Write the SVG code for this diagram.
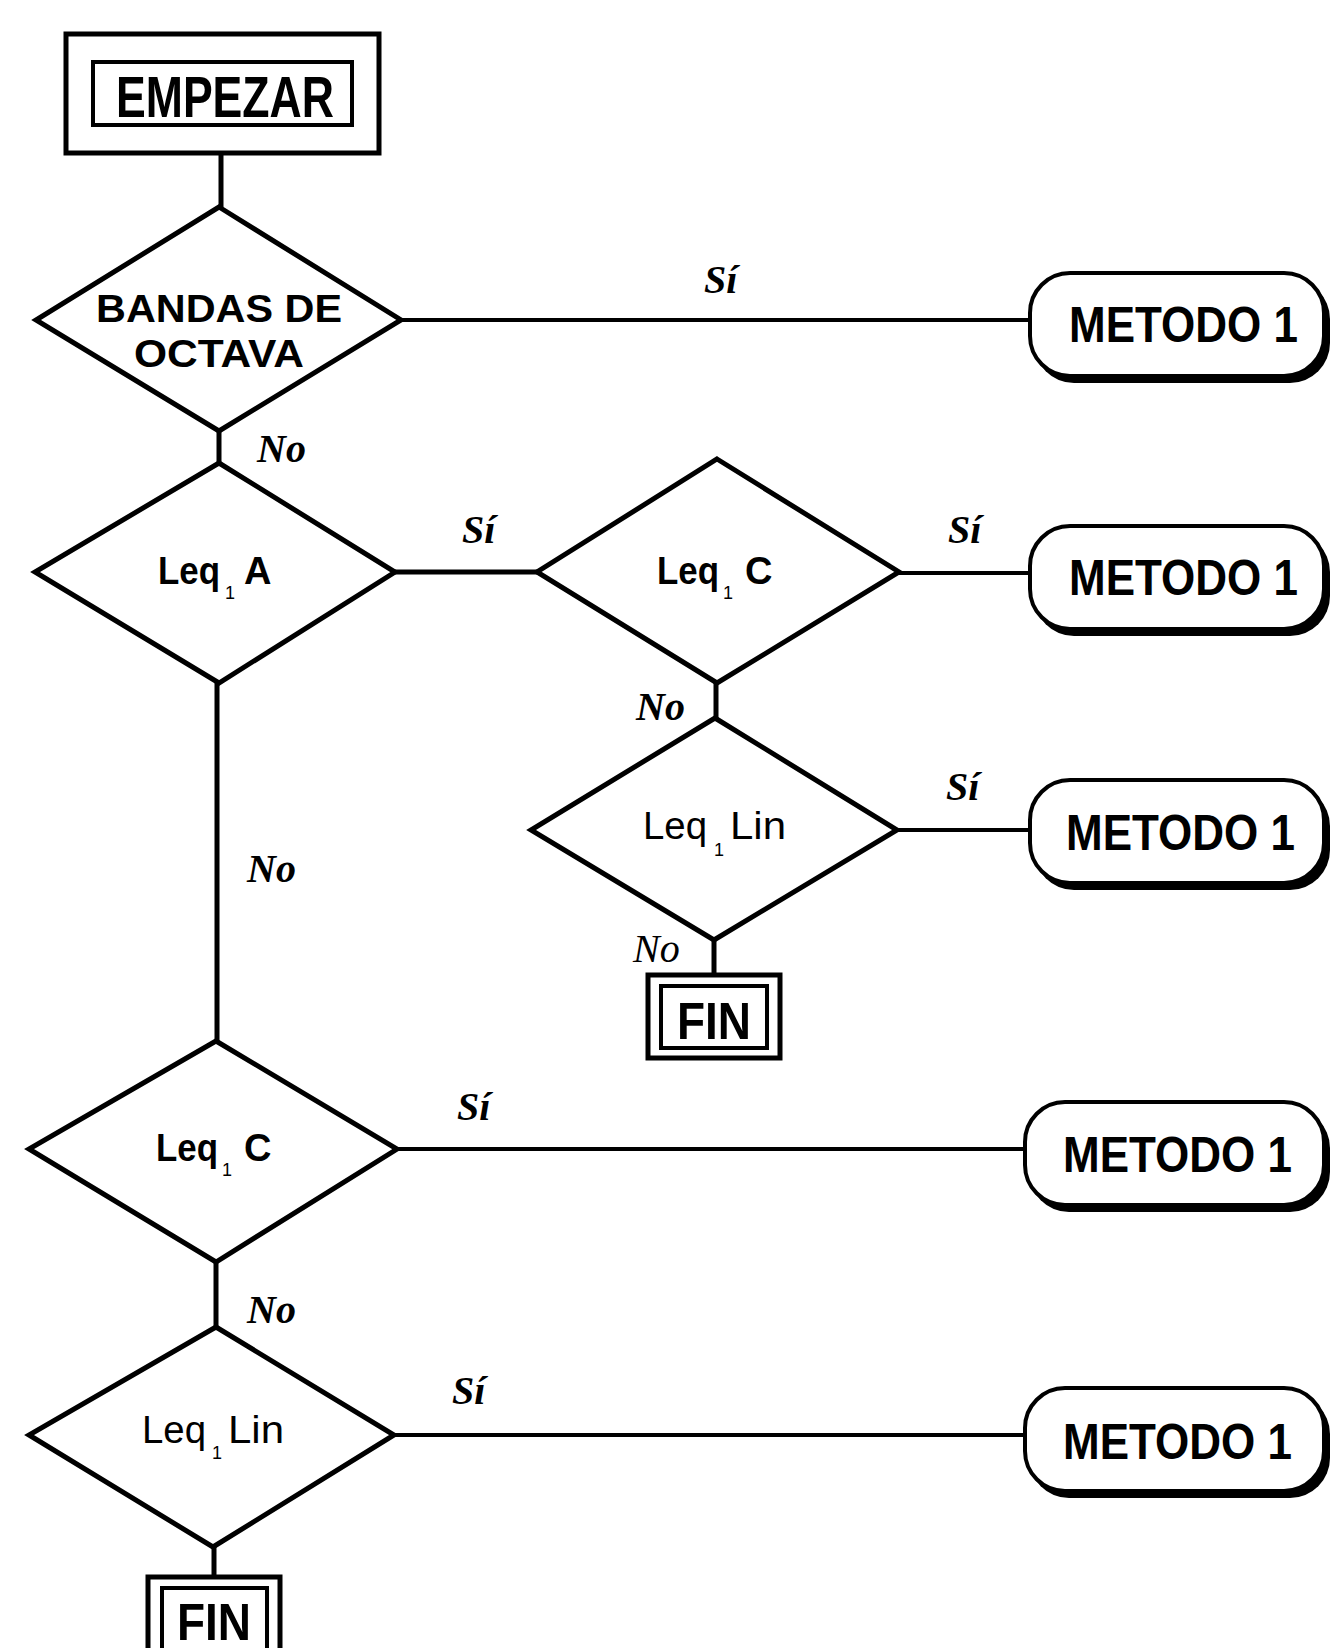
<svg xmlns="http://www.w3.org/2000/svg" width="1331" height="1648" viewBox="0 0 1331 1648">
<style>
.dia{fill:#fff;stroke:#000;stroke-width:5;stroke-linejoin:miter}
.con{stroke:#000;stroke-width:5;fill:none}
.conh{stroke:#000;stroke-width:4;fill:none}
.box{fill:#fff;stroke:#000;stroke-width:5}
.shadow{fill:#000}
.term{fill:#fff;stroke:#000;stroke-width:4}
.t{font-family:"Liberation Sans",Arial,sans-serif;font-weight:bold;fill:#000}
.tn{font-family:"Liberation Sans",Arial,sans-serif;fill:#000}
.lbl{font-family:"Liberation Serif","Times New Roman",serif;font-style:italic;font-weight:bold;font-size:40px;fill:#000}
.lbln{font-family:"Liberation Serif","Times New Roman",serif;font-style:italic;font-size:40px;fill:#000}
.sub{font-family:"Liberation Sans",Arial,sans-serif;font-size:18px;fill:#000}
</style>
<rect width="1331" height="1648" fill="#fff"/>
<g id="connectors">
<line class="con" x1="221" y1="153" x2="221" y2="207"/>
<line class="conh" x1="401" y1="320" x2="1030" y2="320"/>
<line class="con" x1="219" y1="431" x2="219" y2="463"/>
<line class="con" x1="395" y1="572" x2="537" y2="572"/>
<line class="conh" x1="899" y1="573" x2="1030" y2="573"/>
<line class="con" x1="716" y1="683" x2="716" y2="718"/>
<line class="conh" x1="897" y1="830" x2="1030" y2="830"/>
<line class="con" x1="714" y1="940" x2="714" y2="975"/>
<line class="con" x1="217" y1="683" x2="217" y2="1041"/>
<line class="conh" x1="397" y1="1149" x2="1025" y2="1149"/>
<line class="con" x1="216" y1="1262" x2="216" y2="1327"/>
<line class="conh" x1="394" y1="1435" x2="1025" y2="1435"/>
<line class="con" x1="214" y1="1547" x2="214" y2="1577"/>
<text class="lbl" x="704" y="293">Sí</text>
<text class="lbl" x="257" y="462">No</text>
<text class="lbl" x="462" y="543">Sí</text>
<text class="lbl" x="948" y="543">Sí</text>
<text class="lbl" x="636" y="720">No</text>
<text class="lbl" x="946" y="800">Sí</text>
<text class="lbln" x="633" y="962">No</text>
<text class="lbl" x="247" y="882">No</text>
<text class="lbl" x="457" y="1120">Sí</text>
<text class="lbl" x="247" y="1323">No</text>
<text class="lbl" x="452" y="1404">Sí</text>
</g>
<g id="empezar">
<rect class="box" x="66" y="34" width="313" height="119"/>
<rect class="term" x="93" y="62" width="259" height="63"/>
<text class="t" x="116" y="117" font-size="58" textLength="218" lengthAdjust="spacingAndGlyphs">EMPEZAR</text>
</g>
<g id="d1">
<polygon class="dia" points="219,207 401,320 219,431 36,320"/>
<text class="t" x="219" y="322" font-size="38" text-anchor="middle" textLength="246" lengthAdjust="spacingAndGlyphs">BANDAS DE</text>
<text class="t" x="219" y="367" font-size="38" text-anchor="middle" textLength="170" lengthAdjust="spacingAndGlyphs">OCTAVA</text>
</g>
<g id="m1">
<rect class="shadow" x="1034" y="279" width="296" height="104" rx="40"/>
<rect class="term" x="1030" y="273" width="294" height="103" rx="40"/>
<text class="t" x="1069" y="342" font-size="50" textLength="229" lengthAdjust="spacingAndGlyphs">METODO 1</text>
</g>
<g id="d2">
<polygon class="dia" points="219,463 395,572 219,683 35,572"/>
<text class="t" x="158" y="584" font-size="38" textLength="62" lengthAdjust="spacingAndGlyphs">Leq</text>
<text class="sub" x="225" y="599">1</text>
<text class="t" x="244" y="584" font-size="38">A</text>
</g>
<g id="d3">
<polygon class="dia" points="717,459 899,572 717,683 537,572"/>
<text class="t" x="657" y="584" font-size="38" textLength="62" lengthAdjust="spacingAndGlyphs">Leq</text>
<text class="sub" x="723" y="599">1</text>
<text class="t" x="745" y="584" font-size="38">C</text>
</g>
<g id="m2">
<rect class="shadow" x="1034" y="532" width="296" height="104" rx="40"/>
<rect class="term" x="1030" y="526" width="294" height="103" rx="40"/>
<text class="t" x="1069" y="595" font-size="50" textLength="229" lengthAdjust="spacingAndGlyphs">METODO 1</text>
</g>
<g id="d4">
<polygon class="dia" points="715,718 897,830 714,940 531,830"/>
<text class="tn" x="643" y="839" font-size="38" textLength="64" lengthAdjust="spacingAndGlyphs">Leq</text>
<text class="sub" x="714" y="856">1</text>
<text class="tn" x="730" y="839" font-size="38" textLength="56" lengthAdjust="spacingAndGlyphs">Lin</text>
</g>
<g id="m3">
<rect class="shadow" x="1034" y="786" width="296" height="104" rx="40"/>
<rect class="term" x="1030" y="780" width="294" height="103" rx="40"/>
<text class="t" x="1066" y="850" font-size="50" textLength="229" lengthAdjust="spacingAndGlyphs">METODO 1</text>
</g>
<g id="fin1">
<rect class="box" x="648" y="975" width="132" height="83"/>
<rect class="term" x="661" y="986" width="106" height="62"/>
<text class="t" x="714" y="1039" font-size="52" text-anchor="middle" textLength="74" lengthAdjust="spacingAndGlyphs">FIN</text>
</g>
<g id="d5">
<polygon class="dia" points="216,1041 397,1149 216,1262 29,1149"/>
<text class="t" x="156" y="1161" font-size="38" textLength="62" lengthAdjust="spacingAndGlyphs">Leq</text>
<text class="sub" x="222" y="1176">1</text>
<text class="t" x="244" y="1161" font-size="38">C</text>
</g>
<g id="m4">
<rect class="shadow" x="1029" y="1108" width="301" height="104" rx="40"/>
<rect class="term" x="1025" y="1102" width="299" height="103" rx="40"/>
<text class="t" x="1063" y="1172" font-size="50" textLength="229" lengthAdjust="spacingAndGlyphs">METODO 1</text>
</g>
<g id="d6">
<polygon class="dia" points="216,1327 394,1435 213,1547 29,1435"/>
<text class="tn" x="142" y="1443" font-size="38" textLength="64" lengthAdjust="spacingAndGlyphs">Leq</text>
<text class="sub" x="212" y="1459">1</text>
<text class="tn" x="228" y="1443" font-size="38" textLength="56" lengthAdjust="spacingAndGlyphs">Lin</text>
</g>
<g id="m5">
<rect class="shadow" x="1029" y="1394" width="301" height="104" rx="40"/>
<rect class="term" x="1025" y="1388" width="299" height="103" rx="40"/>
<text class="t" x="1063" y="1459" font-size="50" textLength="229" lengthAdjust="spacingAndGlyphs">METODO 1</text>
</g>
<g id="fin2">
<rect class="box" x="148" y="1577" width="132" height="83"/>
<rect class="term" x="162" y="1588" width="105" height="62"/>
<text class="t" x="214" y="1640" font-size="52" text-anchor="middle" textLength="74" lengthAdjust="spacingAndGlyphs">FIN</text>
</g>
</svg>
